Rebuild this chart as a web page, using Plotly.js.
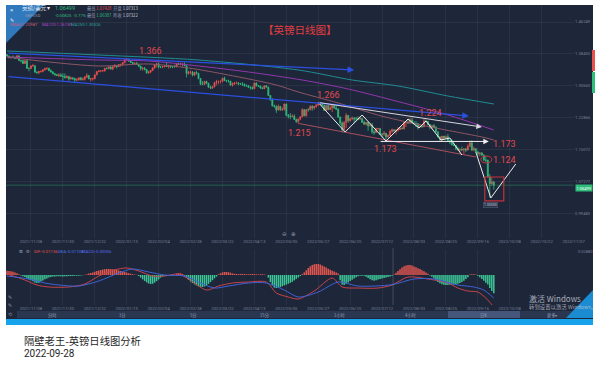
<!DOCTYPE html>
<html><head><meta charset="utf-8">
<script src="https://cdn.plot.ly/plotly-3.0.1.min.js"></script>
<style>html,body{margin:0;padding:0;background:#fff;}#chart{width:600px;height:375px;}</style>
</head><body><div id="chart"></div>
<script>
// ---------------- DATA ----------------
const dates=[
"2021-10-21","2021-10-22",
"2021-10-25","2021-10-26","2021-10-27","2021-10-28","2021-10-29",
"2021-11-01","2021-11-02","2021-11-03","2021-11-04","2021-11-05",
"2021-11-08","2021-11-09","2021-11-10","2021-11-11","2021-11-12",
"2021-11-15","2021-11-16","2021-11-17","2021-11-18","2021-11-19",
"2021-11-22","2021-11-23","2021-11-24","2021-11-25","2021-11-26",
"2021-11-29","2021-11-30","2021-12-01","2021-12-02","2021-12-03",
"2021-12-06","2021-12-07","2021-12-08","2021-12-09","2021-12-10",
"2021-12-13","2021-12-14","2021-12-15","2021-12-16","2021-12-17",
"2021-12-20","2021-12-21","2021-12-22","2021-12-23","2021-12-24",
"2021-12-27","2021-12-28","2021-12-29","2021-12-30","2021-12-31",
"2022-01-03","2022-01-04","2022-01-05","2022-01-06","2022-01-07",
"2022-01-10","2022-01-11","2022-01-12","2022-01-13","2022-01-14",
"2022-01-17","2022-01-18","2022-01-19","2022-01-20","2022-01-21",
"2022-01-24","2022-01-25","2022-01-26","2022-01-27","2022-01-28",
"2022-01-31","2022-02-01","2022-02-02","2022-02-03","2022-02-04",
"2022-02-07","2022-02-08","2022-02-09","2022-02-10","2022-02-11",
"2022-02-14","2022-02-15","2022-02-16","2022-02-17","2022-02-18",
"2022-02-21","2022-02-22","2022-02-23","2022-02-24","2022-02-25",
"2022-02-28","2022-03-01","2022-03-02","2022-03-03","2022-03-04",
"2022-03-07","2022-03-08","2022-03-09","2022-03-10","2022-03-11",
"2022-03-14","2022-03-15","2022-03-16","2022-03-17","2022-03-18",
"2022-03-21","2022-03-22","2022-03-23","2022-03-24","2022-03-25",
"2022-03-28","2022-03-29","2022-03-30","2022-03-31","2022-04-01",
"2022-04-04","2022-04-05","2022-04-06","2022-04-07","2022-04-08",
"2022-04-11","2022-04-12","2022-04-13","2022-04-14","2022-04-15",
"2022-04-18","2022-04-19","2022-04-20","2022-04-21","2022-04-22",
"2022-04-25","2022-04-26","2022-04-27","2022-04-28","2022-04-29",
"2022-05-02","2022-05-03","2022-05-04","2022-05-05","2022-05-06",
"2022-05-09","2022-05-10","2022-05-11","2022-05-12","2022-05-13",
"2022-05-16","2022-05-17","2022-05-18","2022-05-19","2022-05-20",
"2022-05-23","2022-05-24","2022-05-25","2022-05-26","2022-05-27",
"2022-05-30","2022-05-31","2022-06-01","2022-06-02","2022-06-03",
"2022-06-06","2022-06-07","2022-06-08","2022-06-09","2022-06-10",
"2022-06-13","2022-06-14","2022-06-15","2022-06-16","2022-06-17",
"2022-06-20","2022-06-21","2022-06-22","2022-06-23","2022-06-24",
"2022-06-27","2022-06-28","2022-06-29","2022-06-30","2022-07-01",
"2022-07-04","2022-07-05","2022-07-06","2022-07-07","2022-07-08",
"2022-07-11","2022-07-12","2022-07-13","2022-07-14","2022-07-15",
"2022-07-18","2022-07-19","2022-07-20","2022-07-21","2022-07-22",
"2022-07-25","2022-07-26","2022-07-27","2022-07-28","2022-07-29",
"2022-08-01","2022-08-02","2022-08-03","2022-08-04","2022-08-05",
"2022-08-08","2022-08-09","2022-08-10","2022-08-11","2022-08-12",
"2022-08-15","2022-08-16","2022-08-17","2022-08-18","2022-08-19",
"2022-08-22","2022-08-23","2022-08-24","2022-08-25","2022-08-26",
"2022-08-29","2022-08-30","2022-08-31","2022-09-01","2022-09-02",
"2022-09-05","2022-09-06","2022-09-07","2022-09-08","2022-09-09",
"2022-09-12","2022-09-13","2022-09-14","2022-09-15","2022-09-16",
"2022-09-19","2022-09-20","2022-09-21","2022-09-22","2022-09-23",
"2022-09-26","2022-09-27","2022-09-28"];

const open=[
1.3830,1.3795,1.3760,1.3770,1.3765,1.3745,1.3800,1.3685,1.3680,1.3615,
1.3680,1.3495,1.3495,1.3555,1.3560,1.3400,1.3395,1.3420,1.3425,1.3460,
1.3490,1.3500,1.3440,1.3405,1.3365,1.3340,1.3320,1.3335,1.3305,1.3300,
1.3265,1.3300,1.3235,1.3265,1.3245,1.3210,1.3215,1.3265,1.3220,1.3230,
1.3290,1.3320,1.3235,1.3240,1.3245,1.3335,1.3415,1.3435,1.3435,1.3440,
1.3495,1.3490,1.3530,1.3480,1.3535,1.3550,1.3540,1.3590,1.3595,1.3635,
1.3710,1.3715,1.3675,1.3640,1.3615,1.3620,1.3595,1.3550,1.3490,1.3500,
1.3470,1.3390,1.3405,1.3445,1.3505,1.3590,1.3605,1.3530,1.3530,1.3535,
1.3555,1.3540,1.3560,1.3535,1.3535,1.3535,1.3610,1.3592,1.3600,1.3600,
1.3560,1.3370,1.3410,1.3410,1.3330,1.3400,1.3375,1.3250,1.3110,1.3105,
1.3180,1.3130,1.3035,1.3010,1.3045,1.3150,1.3175,1.3180,1.3180,1.3255,
1.3200,1.3190,1.3185,1.3090,1.3115,1.3140,1.3140,1.3115,1.3115,1.3110,
1.3070,1.3070,1.3035,1.3035,1.3000,1.3140,1.3070,1.3065,1.3020,1.3000,
1.3070,1.3040,1.2835,1.2725,1.2580,1.2570,1.2480,1.2570,1.2490,1.2500,
1.2625,1.2355,1.2335,1.2325,1.2330,1.2250,1.2200,1.2260,1.2315,1.2490,
1.2340,1.2490,1.2485,1.2565,1.2530,1.2570,1.2605,1.2625,1.2625,1.2600,
1.2475,1.2590,1.2490,1.2535,1.2590,1.2530,1.2500,1.2310,1.2160,1.2000,
1.2180,1.2350,1.2220,1.2270,1.2280,1.2265,1.2265,1.2265,1.2270,1.2180,
1.2135,1.2180,1.2095,1.2115,1.1950,1.1930,1.2030,1.2030,1.1895,1.1890,
1.1915,1.1825,1.1860,1.1960,1.2000,1.1970,1.1990,1.2005,1.2030,1.2025,
1.2170,1.2180,1.2165,1.2240,1.2165,1.2150,1.2150,1.2075,1.2080,1.2075,
1.2210,1.2205,1.2130,1.2055,1.2100,1.2060,1.1950,1.1825,1.1765,1.1845,
1.1795,1.1830,1.1735,1.1700,1.1630,1.1620,1.1545,1.1510,1.1515,1.1510,
1.1530,1.1505,1.1595,1.1680,1.1505,1.1540,1.1465,1.1415,1.1435,1.1380,
1.1265,1.1255,1.0855,1.0685,1.0730];

const high=[
1.3835,1.3810,1.3780,1.3810,1.3780,1.3815,1.3805,1.3700,1.3700,1.3690,
1.3700,1.3515,1.3570,1.3605,1.3570,1.3425,1.3430,1.3440,1.3465,1.3510,
1.3515,1.3510,1.3475,1.3430,1.3385,1.3365,1.3380,1.3375,1.3375,1.3370,
1.3325,1.3310,1.3295,1.3280,1.3270,1.3260,1.3275,1.3285,1.3275,1.3300,
1.3375,1.3340,1.3260,1.3270,1.3350,1.3430,1.3440,1.3445,1.3445,1.3510,
1.3520,1.3550,1.3545,1.3560,1.3600,1.3555,1.3600,1.3600,1.3645,1.3720,
1.3750,1.3720,1.3690,1.3655,1.3640,1.3655,1.3600,1.3560,1.3530,1.3530,
1.3475,1.3435,1.3450,1.3520,1.3590,1.3630,1.3640,1.3550,1.3560,1.3575,
1.3640,1.3585,1.3570,1.3555,1.3580,1.3630,1.3640,1.3635,1.3625,1.3640,
1.3570,1.3430,1.3440,1.3425,1.3410,1.3435,1.3385,1.3260,1.3185,1.3185,
1.3190,1.3145,1.3075,1.3070,1.3165,1.3215,1.3195,1.3200,1.3270,1.3295,
1.3215,1.3220,1.3190,1.3150,1.3165,1.3175,1.3160,1.3145,1.3160,1.3125,
1.3105,1.3090,1.3055,1.3055,1.3150,1.3150,1.3080,1.3075,1.3045,1.3075,
1.3090,1.3045,1.2845,1.2775,1.2615,1.2595,1.2615,1.2575,1.2540,1.2635,
1.2640,1.2385,1.2405,1.2375,1.2375,1.2270,1.2270,1.2325,1.2525,1.2500,
1.2500,1.2525,1.2600,1.2600,1.2575,1.2620,1.2665,1.2660,1.2635,1.2610,
1.2595,1.2600,1.2600,1.2600,1.2600,1.2590,1.2520,1.2320,1.2205,1.2205,
1.2405,1.2360,1.2285,1.2325,1.2310,1.2315,1.2325,1.2330,1.2295,1.2225,
1.2180,1.2185,1.2160,1.2165,1.2000,1.2050,1.2045,1.2030,1.1915,1.1970,
1.1920,1.1890,1.2000,1.2030,1.2010,1.2010,1.2065,1.2065,1.2085,1.2185,
1.2200,1.2245,1.2295,1.2295,1.2215,1.2210,1.2160,1.2140,1.2115,1.2275,
1.2250,1.2210,1.2135,1.2120,1.2140,1.2090,1.1960,1.1850,1.1845,1.1850,
1.1860,1.1900,1.1760,1.1760,1.1670,1.1625,1.1590,1.1550,1.1590,1.1545,
1.1560,1.1645,1.1735,1.1740,1.1590,1.1550,1.1470,1.1450,1.1455,1.1405,
1.1360,1.1275,1.0920,1.0840,1.0745];

const low=[
1.3780,1.3735,1.3730,1.3750,1.3720,1.3730,1.3675,1.3640,1.3600,1.3605,
1.3490,1.3425,1.3480,1.3535,1.3395,1.3355,1.3355,1.3390,1.3400,1.3440,
1.3455,1.3425,1.3395,1.3350,1.3315,1.3315,1.3280,1.3300,1.3190,1.3255,
1.3255,1.3195,1.3225,1.3210,1.3160,1.3195,1.3200,1.3200,1.3200,1.3200,
1.3260,1.3230,1.3170,1.3200,1.3230,1.3330,1.3400,1.3400,1.3410,1.3410,
1.3470,1.3470,1.3465,1.3450,1.3520,1.3490,1.3525,1.3535,1.3560,1.3620,
1.3690,1.3655,1.3630,1.3595,1.3580,1.3590,1.3525,1.3445,1.3440,1.3445,
1.3360,1.3360,1.3380,1.3430,1.3490,1.3520,1.3490,1.3500,1.3500,1.3520,
1.3530,1.3490,1.3500,1.3500,1.3515,1.3520,1.3580,1.3570,1.3535,1.3550,
1.3275,1.3340,1.3355,1.3300,1.3305,1.3345,1.3225,1.3085,1.3085,1.3100,
1.3110,1.3030,1.3000,1.3000,1.3035,1.3085,1.3110,1.3125,1.3155,1.3185,
1.3155,1.3150,1.3070,1.3050,1.3095,1.3120,1.3085,1.3100,1.3070,1.3050,
1.3050,1.3015,1.2975,1.2975,1.2995,1.3055,1.3040,1.3000,1.2995,1.2990,
1.3030,1.2825,1.2705,1.2570,1.2535,1.2410,1.2465,1.2460,1.2455,1.2465,
1.2325,1.2275,1.2260,1.2300,1.2240,1.2165,1.2155,1.2230,1.2310,1.2330,
1.2320,1.2440,1.2475,1.2465,1.2490,1.2535,1.2585,1.2605,1.2570,1.2460,
1.2460,1.2475,1.2480,1.2430,1.2510,1.2490,1.2290,1.2115,1.1935,1.1985,
1.2045,1.2170,1.2200,1.2230,1.2160,1.2210,1.2235,1.2245,1.2165,1.2120,
1.2105,1.1975,1.2080,1.1900,1.1875,1.1920,1.1975,1.1870,1.1810,1.1845,
1.1760,1.1805,1.1855,1.1915,1.1950,1.1890,1.1955,1.1995,1.2015,1.2005,
1.2065,1.2145,1.2150,1.2155,1.2120,1.2065,1.2005,1.2055,1.2045,1.2065,
1.2180,1.2105,1.2010,1.2020,1.2040,1.1935,1.1815,1.1715,1.1720,1.1775,
1.1785,1.1725,1.1650,1.1620,1.1600,1.1500,1.1490,1.1445,1.1480,1.1405,
1.1460,1.1500,1.1590,1.1480,1.1475,1.1460,1.1350,1.1350,1.1375,1.1235,
1.1210,1.0840,1.0350,1.0635,1.0540];

const close=[
1.3795,1.3760,1.3770,1.3765,1.3745,1.3800,1.3685,1.3680,1.3615,1.3680,
1.3495,1.3495,1.3555,1.3560,1.3400,1.3395,1.3420,1.3425,1.3460,1.3490,
1.3500,1.3440,1.3405,1.3365,1.3340,1.3320,1.3335,1.3305,1.3300,1.3265,
1.3300,1.3235,1.3265,1.3245,1.3210,1.3215,1.3265,1.3220,1.3230,1.3290,
1.3320,1.3235,1.3240,1.3245,1.3335,1.3415,1.3435,1.3435,1.3440,1.3495,
1.3490,1.3530,1.3480,1.3535,1.3550,1.3540,1.3590,1.3595,1.3635,1.3710,
1.3715,1.3675,1.3640,1.3615,1.3620,1.3595,1.3550,1.3490,1.3500,1.3470,
1.3390,1.3405,1.3445,1.3505,1.3590,1.3605,1.3530,1.3530,1.3535,1.3555,
1.3540,1.3560,1.3535,1.3535,1.3535,1.3610,1.3592,1.3600,1.3600,1.3560,
1.3370,1.3410,1.3410,1.3330,1.3400,1.3375,1.3250,1.3110,1.3105,1.3180,
1.3130,1.3035,1.3010,1.3045,1.3150,1.3175,1.3180,1.3180,1.3255,1.3200,
1.3190,1.3185,1.3090,1.3115,1.3140,1.3140,1.3115,1.3115,1.3110,1.3070,
1.3070,1.3035,1.3035,1.3000,1.3140,1.3070,1.3065,1.3020,1.3000,1.3070,
1.3040,1.2835,1.2725,1.2580,1.2570,1.2480,1.2570,1.2490,1.2500,1.2625,
1.2355,1.2335,1.2325,1.2330,1.2250,1.2200,1.2260,1.2315,1.2490,1.2340,
1.2490,1.2485,1.2565,1.2530,1.2570,1.2605,1.2625,1.2625,1.2600,1.2475,
1.2590,1.2490,1.2535,1.2590,1.2530,1.2500,1.2310,1.2160,1.2000,1.2180,
1.2350,1.2220,1.2270,1.2280,1.2265,1.2265,1.2265,1.2270,1.2180,1.2135,
1.2180,1.2095,1.2115,1.1950,1.1930,1.2030,1.2030,1.1895,1.1890,1.1915,
1.1825,1.1860,1.1960,1.2000,1.1970,1.1990,1.2005,1.2030,1.2025,1.2170,
1.2180,1.2165,1.2240,1.2165,1.2150,1.2150,1.2075,1.2080,1.2075,1.2210,
1.2205,1.2130,1.2055,1.2100,1.2060,1.1950,1.1825,1.1765,1.1845,1.1795,
1.1830,1.1735,1.1700,1.1630,1.1620,1.1545,1.1510,1.1515,1.1510,1.1530,
1.1505,1.1595,1.1680,1.1505,1.1540,1.1465,1.1415,1.1435,1.1380,1.1265,
1.1255,1.0855,1.0685,1.0730,1.0650];

// moving averages
const ma60Dates=["2021-10-21","2021-11-19","2021-12-24","2022-01-28","2022-02-25","2022-03-25","2022-04-28","2022-05-13","2022-06-10","2022-07-12","2022-08-12","2022-09-20","2022-09-28"];
const ma60Vals=[1.3772,1.3651,1.3553,1.3602,1.3504,1.3334,1.3090,1.2920,1.2652,1.2330,1.2080,1.1824,1.1751];
const ma120Dates=["2021-10-21","2021-12-24","2022-01-28","2022-03-04","2022-04-08","2022-05-17","2022-06-17","2022-07-19","2022-08-26","2022-09-28"];
const ma120Vals=[1.3772,1.3699,1.3675,1.3553,1.3407,1.3212,1.2993,1.2725,1.2359,1.1994];
const ma250Dates=["2021-10-21","2021-12-24","2022-03-04","2022-05-13","2022-06-21","2022-07-22","2022-08-26","2022-09-28"];
const ma250Vals=[1.3919,1.3821,1.3699,1.3456,1.3212,1.3066,1.2822,1.2627];

// MACD
const macdHist=[
0.0048,0.0046,0.0042,0.0036,0.0030,0.0020,0.0010,
-0.0005,-0.0015,-0.0022,-0.0040,-0.0052,-0.0060,-0.0072,-0.0085,-0.0092,-0.0088,-0.0075,-0.0062,-0.0050,-0.0040,-0.0030,
-0.0022,-0.0018,-0.0016,-0.0015,-0.0014,-0.0015,-0.0016,-0.0015,-0.0013,-0.0012,-0.0012,-0.0011,-0.0010,-0.0009,-0.0008,-0.0006,-0.0003,
0.0004,0.0010,0.0016,0.0022,0.0030,0.0037,0.0045,0.0052,0.0058,0.0063,0.0067,0.0069,0.0069,0.0068,0.0066,0.0063,0.0058,0.0052,0.0046,0.0040,0.0034,0.0027,0.0020,0.0014,0.0009,0.0005,0.0002,
-0.0012,-0.0030,-0.0050,-0.0068,-0.0085,-0.0098,-0.0104,-0.0100,-0.0088,-0.0070,-0.0050,-0.0030,
-0.0015,-0.0010,-0.0007,-0.0005,-0.0004,-0.0004,-0.0003,
0.0015,0.0022,0.0020,0.0012,
-0.0010,-0.0030,-0.0055,-0.0075,-0.0092,-0.0108,-0.0120,-0.0130,-0.0136,-0.0138,-0.0132,-0.0120,-0.0102,-0.0082,-0.0060,-0.0038,-0.0018,
0.0008,0.0020,0.0030,0.0035,0.0035,0.0032,0.0026,0.0018,
0.0014,0.0012,0.0010,0.0012,0.0013,0.0011,0.0009,0.0008,0.0010,0.0012,0.0010,0.0008,0.0006,0.0008,0.0010,0.0006,0.0002,
-0.0030,-0.0080,-0.0120,-0.0145,-0.0150,-0.0148,-0.0140,-0.0130,-0.0120,-0.0110,-0.0100,-0.0090,-0.0078,-0.0062,-0.0045,-0.0028,-0.0012,
0.0010,0.0030,0.0055,0.0080,0.0100,0.0115,0.0124,0.0127,0.0126,0.0120,0.0110,0.0098,0.0085,0.0072,0.0060,0.0050,0.0040,0.0030,0.0018,
-0.0060,-0.0110,-0.0115,-0.0100,-0.0085,-0.0070,-0.0055,-0.0040,-0.0025,-0.0015,
-0.0010,-0.0008,-0.0010,-0.0020,-0.0035,-0.0050,-0.0060,-0.0065,-0.0060,-0.0052,-0.0045,-0.0040,-0.0035,-0.0030,-0.0024,-0.0016,-0.0008,
0.0005,0.0025,0.0045,0.0065,0.0085,0.0100,0.0110,0.0115,0.0114,0.0108,0.0098,0.0088,0.0078,0.0068,0.0055,0.0042,0.0030,0.0015,
-0.0005,-0.0020,-0.0040,-0.0060,-0.0080,-0.0095,-0.0105,-0.0112,-0.0115,-0.0115,-0.0113,-0.0110,-0.0108,-0.0105,-0.0100,-0.0092,-0.0080,-0.0065,-0.0045,-0.0025,
0.0005,0.0010,0.0010,0.0006,
-0.0010,-0.0025,-0.0045,-0.0065,-0.0090,-0.0110,-0.0150,-0.0185,-0.0210];
const difDates=["2021-10-21","2021-11-03","2021-11-11","2021-11-19","2021-12-03","2021-12-15","2021-12-24","2022-01-05","2022-01-13","2022-01-21","2022-02-01","2022-02-09","2022-02-18","2022-02-25","2022-03-10","2022-03-18","2022-03-29","2022-04-08","2022-04-21","2022-04-28","2022-05-06","2022-05-13","2022-05-25","2022-06-07","2022-06-14","2022-06-24","2022-07-08","2022-07-19","2022-07-29","2022-08-12","2022-08-26","2022-09-02","2022-09-09","2022-09-16","2022-09-22","2022-09-28"];
const difVals=[0.0012,-0.0058,-0.0115,-0.0138,-0.0138,-0.0104,-0.0012,0.0058,0.0081,0.0046,-0.0012,-0.0012,0.0012,-0.0046,-0.0173,-0.0127,-0.0092,-0.0081,-0.0081,-0.0207,-0.0253,-0.0276,-0.0184,-0.0035,-0.0138,-0.0150,-0.0150,-0.0115,-0.0023,-0.0046,-0.0092,-0.0150,-0.0184,-0.0196,-0.0265,-0.0368];
const deaDates=["2021-10-21","2021-11-05","2021-11-17","2021-11-26","2021-12-10","2021-12-24","2022-01-07","2022-01-18","2022-01-28","2022-02-09","2022-02-23","2022-03-04","2022-03-16","2022-03-25","2022-04-08","2022-04-21","2022-05-04","2022-05-13","2022-05-27","2022-06-10","2022-06-24","2022-07-19","2022-08-03","2022-08-17","2022-09-02","2022-09-14","2022-09-21","2022-09-28"];
const deaVals=[-0.0012,-0.0046,-0.0092,-0.0115,-0.0127,-0.0069,0.0023,0.0069,0.0035,0.0000,-0.0012,-0.0081,-0.0150,-0.0127,-0.0092,-0.0092,-0.0173,-0.0253,-0.0196,-0.0081,-0.0127,-0.0111,-0.0046,-0.0046,-0.0115,-0.0138,-0.0173,-0.0265];

// tick labels
const dateTickText=["2021/11/08","2021/11/30","2021/12/22","2022/01/13","2022/02/04","2022/02/28","2022/03/22","2022/04/13","2022/05/05","2022/05/27","2022/06/20","2022/07/12","2022/08/03","2022/08/25","2022/09/16","2022/10/08","2022/10/22","2022/11/07"];
const priceTicks=[1.46249,1.38455,1.30660,1.22866,1.15072,1.07277,0.99483];
const lastPrice=1.06499;

// drawn analysis (bar number, price)
const blueUpperX=[0,174],   blueUpperY=[1.3870,1.3456];
const blueLowerX=[0,231.5], blueLowerY=[1.3297,1.2335];
const roofX=[156,238],      roofY=[1.2665,1.2067];
const neckX=[186.5,241.5],  neckY=[1.1715,1.1715];
const channelX=[146,235],   channelY=[1.2155,1.1336];
const zigAX=[156,169.5,178,190,201,206.5,210,217.5,222,228];
const zigAY=[1.2665,1.1945,1.2359,1.1726,1.2262,1.2043,1.2213,1.1750,1.1799,1.1385];
const zigBX=[235,242.5,255];
const zigBY=[1.1458,1.0338,1.1166];
const levelText=["1.366","1.266","1.215","1.173","1.224","1.173","1.124"];
const levelX=[71.75,161,146.5,189.5,212.5,249.5,249.5];
const levelY=[1.3926,1.2847,1.1928,1.1531,1.2408,1.1653,1.1263];

// ---------------- DRAW ----------------
if([open,high,low,close,macdHist].some(a=>a.length!==dates.length)) console.error('length mismatch');
const W=600,H=375;
const PX=x=>x/W, PY=y=>1-y/H;
const idx=dates.map((d,i)=>i);
const at=d=>dates.indexOf(d);
const RED='#e8514d', GREEN='#2ebd7b', AX='#76819a';
const FONT="Roboto, 'Noto Sans CJK SC', sans-serif";
const CJK="'Noto Sans CJK SC', sans-serif";

const traces=[];
traces.push({type:'candlestick',x:idx,open:open,high:high,low:low,close:close,xaxis:'x',yaxis:'y',
  increasing:{line:{color:RED,width:0.8},fillcolor:RED},
  decreasing:{line:{color:GREEN,width:0.8},fillcolor:GREEN},
  whiskerwidth:0,hoverinfo:'skip'});
function line(x,y,color,w,xa,ya,shape){return {type:'scatter',mode:'lines',x:x,y:y,xaxis:xa||'x',yaxis:ya||'y',
  line:{color:color,width:w,shape:shape||'linear',smoothing:0.8},hoverinfo:'skip'};}
traces.push(line(ma250Dates.map(at),ma250Vals,'#1f8c92',1,'x','y','spline'));
traces.push(line(ma120Dates.map(at),ma120Vals,'#9236ad',1,'x','y','spline'));
traces.push(line(ma60Dates.map(at),ma60Vals,'#8c5665',1,'x','y','spline'));
traces.push(line(channelX,channelY,'#a8505d',1));
traces.push(line(zigAX,zigAY,'#f0f0f2',1));
traces.push(line(zigBX,zigBY,'#f0f0f2',1));

traces.push({type:'bar',x:idx,y:macdHist,xaxis:'x2',yaxis:'y2',
  marker:{color:macdHist.map(v=>v>=0?'#e2564f':'#3cc596'),line:{width:0}},hoverinfo:'skip'});
traces.push(line(difDates.map(at),difVals,'#c8434b',1,'x2','y2','spline'));
traces.push(line(deaDates.map(at),deaVals,'#3d63d6',1,'x2','y2','spline'));

const tickIdx0=at("2021-11-08"), tickStep=16;
const tickVals=dateTickText.map((t,k)=>tickIdx0+k*tickStep);

const shapes=[];
const annotations=[];
// panel background
shapes.push({type:'rect',xref:'paper',yref:'paper',x0:PX(6),x1:PX(593),y0:PY(319),y1:PY(5),fillcolor:'#1e2639',line:{width:0},layer:'below'});
// top-left corner triangle
shapes.push({type:'path',xref:'paper',yref:'paper',path:`M ${PX(6)} ${PY(5)} L ${PX(44)} ${PY(5)} L ${PX(6)} ${PY(43)} Z`,fillcolor:'rgba(52,136,212,0.85)',line:{width:0}});
// bottom bar, blue strip, windows triangle
shapes.push({type:'rect',xref:'paper',yref:'paper',x0:PX(17),x1:PX(593),y0:PY(318),y1:PY(311),fillcolor:'#2b3650',line:{width:0}});
shapes.push({type:'rect',xref:'paper',yref:'paper',x0:PX(448),x1:PX(520),y0:PY(318),y1:PY(311),fillcolor:'#46557a',line:{width:0}});
shapes.push({type:'rect',xref:'paper',yref:'paper',x0:PX(6),x1:PX(593),y0:PY(325),y1:PY(319),fillcolor:'#17a2ec',line:{width:0}});
shapes.push({type:'path',xref:'paper',yref:'paper',path:`M ${PX(566)} ${PY(318)} L ${PX(593)} ${PY(290)} L ${PX(593)} ${PY(318)} Z`,fillcolor:'#1b8bd2',line:{width:0}});
// right-edge buy/sell tabs
shapes.push({type:'rect',xref:'paper',yref:'paper',x0:PX(592),x1:PX(595),y0:PY(71),y1:PY(50),fillcolor:'#e8514d',line:{width:0}});
shapes.push({type:'rect',xref:'paper',yref:'paper',x0:PX(592),x1:PX(595),y0:PY(93),y1:PY(72),fillcolor:'#2ebd7b',line:{width:0}});
// last price line
shapes.push({type:'line',xref:'x',yref:'y',x0:-0.5,x1:284,y0:lastPrice,y1:lastPrice,line:{color:'rgba(46,189,123,0.55)',width:0.7}});
// crosshair in MACD pane
shapes.push({type:'line',xref:'x2',yref:'paper',x0:193.5,x1:193.5,y0:PY(305),y1:PY(248),line:{color:'rgba(170,180,200,0.35)',width:0.8}});
// red circle and box
shapes.push({type:'circle',xref:'x',yref:'y',x0:237.5,x1:243,y0:1.1190,y1:1.1361,line:{color:'#d8343c',width:1}});
shapes.push({type:'rect',xref:'x',yref:'y',x0:239.5,x1:249,y0:1.0265,y1:1.0849,line:{color:'#c4313a',width:1.2}});

function arrow(xs,ys,color,w){return {xref:'x',yref:'y',axref:'x',ayref:'y',x:xs[1],y:ys[1],ax:xs[0],ay:ys[0],
  showarrow:true,arrowhead:2,arrowsize:1.1,arrowwidth:w,arrowcolor:color,text:'',standoff:0,startstandoff:0};}
annotations.push(arrow(blueUpperX,blueUpperY,'#2b4fe0',1.2));
annotations.push(arrow(blueLowerX,blueLowerY,'#2b4fe0',1.2));
annotations.push(arrow(roofX,roofY,'#d6d6de',1));
annotations.push(arrow(neckX,neckY,'#f0f0f2',1));

levelText.forEach((t,i)=>annotations.push({xref:'x',yref:'y',x:levelX[i],y:levelY[i],text:t,showarrow:false,
  font:{family:FONT,size:9,color:'#e04a50'}}));
annotations.push({xref:'x',yref:'y',x:242.5,y:1.0167,text:'1.03500',showarrow:false,bgcolor:'#2a3449',bordercolor:'#56627c',borderwidth:0.5,borderpad:0.5,
  font:{family:FONT,size:3.5,color:'#c8cede'}});

function txt(t,x,y,size,color,anchor,family){annotations.push({xref:'paper',yref:'paper',x:PX(x),y:PY(y),text:t,showarrow:false,
  xanchor:anchor||'left',yanchor:'middle',font:{family:family||FONT,size:size,color:color}});}
// title
txt('【英镑日线图】',300,29,10.5,'#e23d40','center',CJK);
// top-left quote block
txt('×',8,9,6,'#e6eef8','left');
txt('✎',8,20,5,'#e6eef8','left');
txt('英镑/美元 ▾',20,8.5,5.5,'#eef2f8','left',CJK);
txt('GBPUSD',23,15,4,'#8d98b0','left');
txt('1.06499',53,8.5,5.5,'#2ebd7b','left');
txt('-0.00825  -0.77%',53,15,4.2,'#2ebd7b','left');
txt('最高 <span style="color:#e8514d">1.07428</span>  开盘 <span style="color:#c9d0de">1.07313</span>',85,8.5,4.2,'#8d98b0','left',CJK);
txt('最低 <span style="color:#2ebd7b">1.06387</span>  昨收 <span style="color:#c9d0de">1.07322</span>',85,15,4.2,'#8d98b0','left',CJK);
txt('MA60:1.20987',8,25,4.2,'#d0607e','left');
txt('MA120:1.26130',40,25,4.2,'#b848d0','left');
txt('MA250:1.30526',69,25,4.2,'#2aa5a2','left');
// last price tag
annotations.push({xref:'paper',yref:'y',x:PX(575),y:lastPrice,yshift:-2.5,xanchor:'left',yanchor:'middle',text:'1.06499',showarrow:false,
  bgcolor:'#2ebd7b',borderpad:0.5,font:{family:FONT,size:4,color:'#ffffff'}});
// zoom buttons
txt('⊖',284,234,5.5,'#8a93a8','center','DejaVu Sans');
txt('⊕',293,234,5.5,'#8a93a8','center','DejaVu Sans');
// MACD legend
txt('⊠  ⚙',17,251,4.5,'#8a93a8','left','DejaVu Sans');
txt('DIF:-0.01136',32,251,4.2,'#e0534f','left');
txt('DEA:-0.01108',56,251,4.2,'#4a78e8','left');
txt('MACD:-0.00056',80,251,4.2,'#5a6cf0','left');
txt('0.02880',576,251,4,AX,'left');
// left tool icons
txt('✎',10,297,5,'#8a93a8','center','DejaVu Sans');
txt('✎',10,305,5,'#8a93a8','center','DejaVu Sans');
txt('⟲',10,314,5,'#8a93a8','center','DejaVu Sans');
// timeframe bar
[['分时',52],['1分',123],['5分',193],['15分',265],['1小时',340],['4小时',411],['日K',483],['更多▾',552]].forEach(p=>txt(p[0],p[1],315,4.2,'#98a2b8','center',CJK));
// windows watermark
txt('激活 Windows',527,298.5,8,'rgba(205,210,220,0.8)','left',CJK);
txt('转到设置以激活 Windows。',527,307,5.4,'rgba(205,210,220,0.75)','left',CJK);
// footer
txt('隔壁老王-英镑日线图分析',22,340,10.3,'#1f1f1f','left',CJK);
txt('2022-09-28',22,353,10,'#1f1f1f','left',FONT);

const grid='rgba(255,255,255,0.05)';
const layout={width:600,height:375,margin:{l:0,r:0,t:0,b:0},paper_bgcolor:'#ffffff',plot_bgcolor:'rgba(0,0,0,0)',
  showlegend:false,hovermode:false,bargap:0.25,
  xaxis:{domain:[PX(6),PX(574)],range:[-0.5,284.2],anchor:'y',tickvals:tickVals,ticktext:dateTickText,
    tickfont:{family:FONT,size:4.2,color:AX},showgrid:true,gridcolor:grid,zeroline:false,showline:false,ticks:'',
    rangeslider:{visible:false},fixedrange:true},
  yaxis:{domain:[PY(238),PY(5)],range:[0.9363,1.5039],side:'right',anchor:'x',tickvals:priceTicks,
    ticktext:priceTicks.map(v=>v.toFixed(5)),tickfont:{family:FONT,size:4.2,color:AX},showgrid:true,
    gridcolor:'rgba(255,255,255,0.06)',zeroline:false,showline:false,ticks:'',fixedrange:true},
  xaxis2:{domain:[PX(6),PX(574)],range:[-0.5,284.2],anchor:'y2',tickvals:tickVals.slice(0,16),ticktext:dateTickText.slice(0,16),
    tickfont:{family:FONT,size:4.2,color:AX},showgrid:true,gridcolor:grid,zeroline:false,showline:false,ticks:'',fixedrange:true},
  yaxis2:{domain:[PY(305),PY(250)],range:[-0.0345,0.02875],side:'right',anchor:'x2',showticklabels:false,
    showgrid:false,zeroline:false,showline:false,ticks:'',fixedrange:true},
  shapes:shapes,annotations:annotations};
Plotly.newPlot('chart',traces,layout,{staticPlot:true,displayModeBar:false});
</script></body></html>
